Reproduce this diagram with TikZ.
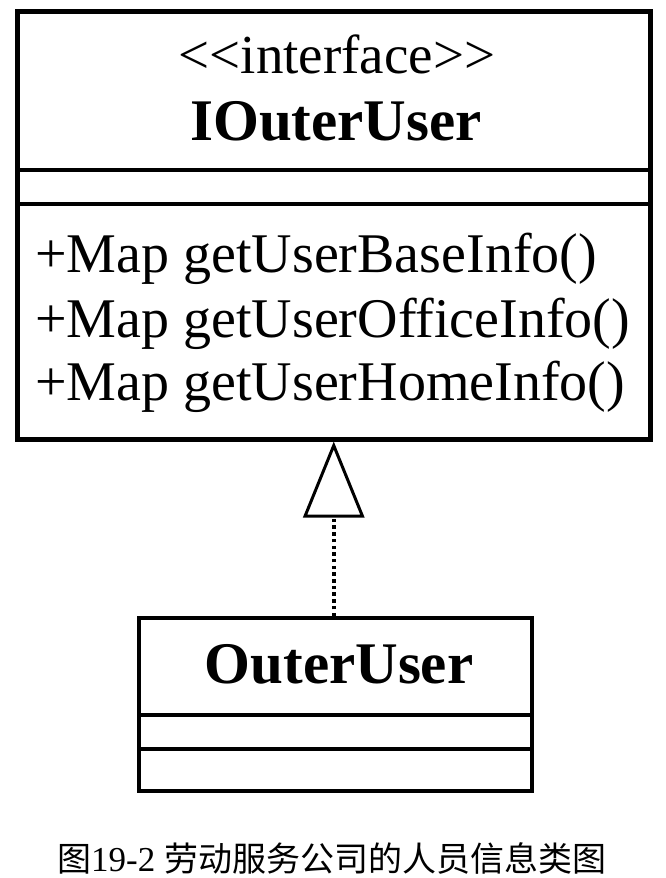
\documentclass[tikz,border=0pt]{standalone}
\usepackage{fontspec}
\setmainfont{Liberation Serif}
\newfontfamily\cjk{Noto Sans CJK SC}
\usetikzlibrary{arrows.meta}
\begin{document}
\begin{tikzpicture}[x=1pt,y=-1pt,
  classbox/.style={draw, line width=#1, minimum width=0pt, inner sep=0pt, anchor=north west},
  sep/.style={line width=#1},
  methodtxt/.style={anchor=base west, inner sep=0pt, font=\fontsize{56}{64}\selectfont},
  titletxt/.style={anchor=base, inner sep=0pt, font=\fontsize{59}{66}\selectfont\bfseries},
  realize/.style={line width=3.5pt, dash pattern=on 3.5pt off 3.2pt,
     -{Triangle[open, length=76pt, width=61pt, line width=3pt, fill=white]}}
  ]
\useasboundingbox (0,0) rectangle (666,878);
\fill[white] (0,0) rectangle (666,878);
% interface box
\node[classbox=4.5pt, minimum width=633pt, minimum height=428pt] (iface) at (15,9) {};
\draw[sep=4.5pt] (15,170) -- (648,170);
\draw[sep=4.5pt] (15,204) -- (648,204);
\node[anchor=base, inner sep=0pt, font=\fontsize{55}{60}\selectfont] (stereo) at (337,73) {<{}<interface>{}>};
\node[titletxt] (ifname) at (336,140) {IOuterUser};
\node[methodtxt] (m1) at (35,272) {+Map getUserBaseInfo()};
\node[methodtxt] (m2) at (35,337) {+Map getUserOfficeInfo()};
\node[methodtxt] (m3) at (35,400) {+Map getUserHomeInfo()};
% implementing class box
\node[classbox=4pt, minimum width=393pt, minimum height=173pt] (impl) at (137,616) {};
\draw[sep=4pt] (137,715) -- (530,715);
\draw[sep=4pt] (137,749) -- (530,749);
\node[titletxt] (implname) at (339,683) {OuterUser};
% realization
\draw[realize] (iface.south |- impl.north) -- (iface.south);
% caption
\node[anchor=base west, inner sep=0pt] (caption) at (57,871)
  {{\cjk\fontsize{34}{40}\selectfont 图}{\fontsize{35}{40}\selectfont 19-2 }{\cjk\fontsize{34}{40}\selectfont 劳动服务公司的人员信息类图}};
\end{tikzpicture}
\end{document}
